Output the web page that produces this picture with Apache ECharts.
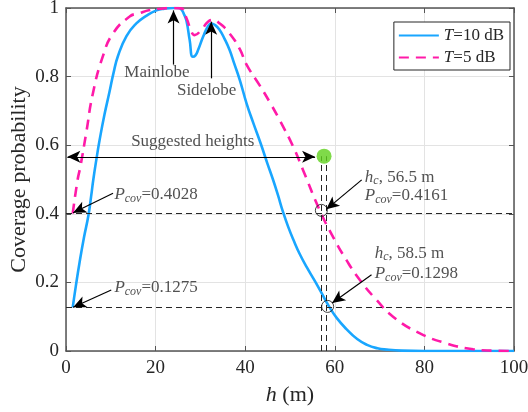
<!DOCTYPE html>
<html><head><meta charset="utf-8">
<script src="https://cdn.jsdelivr.net/npm/echarts@6/dist/echarts.min.js"></script>
<style>html,body{margin:0;padding:0;background:#fff}#c{width:528px;height:412px}</style>
</head><body><div id="c"></div>
<script>
// ---- data ----
const hBlue = [1.5,2.2,3.0,4.0,5.0,5.6,6.1,6.8,7.5,8.6,9.7,10.6,11.6,13.5,15.7,18,20.2,22,23.9,25.2,25.8,26.4,26.9,27.6,28.3,28.9,29.5,30.6,31.7,32.4,33.3,34.3,35.4,36.5,37.5,38.8,40.3,41.8,43.4,45,46.2,47.3,48.4,49.6,50.9,52.2,53.8,55.5,57,58.7,60.5,62.6,65,67.2,69.5,71.6,75,80,90,100];
const pBlue = [0.127,0.19,0.256,0.33,0.395,0.45,0.5,0.56,0.615,0.69,0.755,0.81,0.86,0.918,0.955,0.978,0.993,0.998,1.0,1.0,0.995,0.98,0.962,0.907,0.858,0.862,0.878,0.916,0.947,0.955,0.95,0.936,0.91,0.878,0.84,0.79,0.722,0.665,0.607,0.545,0.5,0.455,0.407,0.362,0.32,0.282,0.243,0.205,0.17,0.13,0.095,0.064,0.035,0.018,0.008,0.004,0.001,0,0,0];
const hPink = [1.5,2.6,3.2,4.5,6.0,8.2,10.5,14.2,16.4,18.7,21,23.9,25.7,26.9,28.0,28.7,30.2,31.7,32.8,34.3,36.5,38.8,40.3,43.2,45.5,47.7,50.7,52.9,56.6,59.6,62.6,65.6,69.3,73,78.9,85,90.9,95,100];
const pPink = [0.401,0.5,0.537,0.635,0.751,0.858,0.926,0.975,0.985,0.994,0.998,1.0,0.999,0.97,0.931,0.921,0.936,0.96,0.965,0.955,0.926,0.88,0.835,0.775,0.725,0.673,0.596,0.528,0.411,0.333,0.265,0.207,0.149,0.1,0.052,0.022,0.005,0.001,0];
const seriesNames = ['T=10 dB','T=5 dB'];
const xTicks = [0,20,40,60,80,100];
const yTicks = [0,0.2,0.4,0.6,0.8,1];
// reference lines
const hLineY = [0.4028, 0.1275];
const vLineX = [57.0, 58.2];
const vLineTop = 0.568;
// markers
const suggestPt = [57.6, 0.568];
const circlePts = [[57.0, 0.41],[58.4, 0.13]];
// arrows [from, to]
const arrowsOne = [
  [[24, 0.835],[24, 0.993]],
  [[32.4, 0.795],[32.4, 0.96]],
  [[10.5, 0.46],[1.6, 0.403]],
  [[10.1, 0.178],[1.6, 0.1275]],
  [[66.0, 0.499],[58.1, 0.413]],
  [[68.2, 0.222],[59.4, 0.14]]
];
const arrowsTwo = [ [[0.3, 0.566],[55.6, 0.566]] ];
// text annotations: [x, y, text, anchor]
const notes = [
  [20.3, 0.812, 'Mainlobe', 'c'],
  [31.4, 0.758, 'Sidelobe', 'c'],
  [28.3, 0.612, 'Suggested heights', 'c'],
  [10.8, 0.455, '{pi|P}{sub|cov}{t|=0.4028}', 'l'],
  [10.8, 0.184, '{pi|P}{sub|cov}{t|=0.1275}', 'l'],
  [66.7, 0.507, '{pi|h}{sub|c}{t|, 56.5 m}', 'l'],
  [66.7, 0.452, '{pi|P}{sub|cov}{t|=0.4161}', 'l'],
  [68.9, 0.285, '{pi|h}{sub|c}{t|, 58.5 m}', 'l'],
  [68.9, 0.226, '{pi|P}{sub|cov}{t|=0.1298}', 'l']
];

const FF = '"Liberation Serif", "DejaVu Serif", serif';
const TC = '#262626';
const rich = {
  t:{fontFamily:FF,fontSize:17,color:TC,lineHeight:20,verticalAlign:'middle'},
  pi:{fontFamily:FF,fontSize:17,fontStyle:'italic',color:TC,lineHeight:20,verticalAlign:'middle'},
  sub:{fontFamily:FF,fontSize:12,fontStyle:'italic',color:TC,lineHeight:8,verticalAlign:'bottom'},
  tb:{fontFamily:FF,fontSize:22,color:TC,lineHeight:24},
  pib:{fontFamily:FF,fontSize:22,fontStyle:'italic',color:TC,lineHeight:24}
};

const chart = echarts.init(document.getElementById('c'));
const zip = (a,b)=>a.map((v,i)=>[v,b[i]]);
const axisCol = '#555';

chart.setOption({
  animation:false,
  backgroundColor:'#fff',
  grid:{left:66,right:14,top:8,bottom:61,show:false,containLabel:false,outerBoundsMode:'none'},
  legend:{
    data:seriesNames, orient:'vertical', right:18, top:22,
    backgroundColor:'#fff', borderColor:'#262626', borderWidth:1,
    padding:[5,6,4,4], itemGap:5, itemWidth:40, itemHeight:14,
    itemStyle:{color:'rgba(0,0,0,0)',borderWidth:0,opacity:0},
    formatter:n=>{const m=n.split('='); return '{pi|'+m[0]+'}{t|='+m[1]+'}';},
    textStyle:{fontFamily:FF,fontSize:17,color:TC,rich:rich}
  },
  xAxis:[{
    type:'value',min:0,max:100,interval:20,
    name:'{pib|h}{tb| (m)}',nameLocation:'middle',nameGap:32,nameMoveOverlap:false,
    nameTextStyle:{rich:rich},
    axisLine:{show:true,onZero:false,lineStyle:{color:axisCol,width:1.5}},
    axisTick:{show:true,inside:true,length:5,lineStyle:{color:axisCol}},
    axisLabel:{fontFamily:FF,fontSize:19,color:TC,margin:8},
    splitLine:{show:true,lineStyle:{color:'#e3e3e3',width:1}}
  },{
    type:'value',min:0,max:100,interval:20,position:'top',
    axisLine:{show:true,onZero:false,lineStyle:{color:axisCol,width:1.5}},
    axisTick:{show:true,inside:true,length:5,lineStyle:{color:axisCol}},
    axisLabel:{show:false},splitLine:{show:false}
  }],
  yAxis:[{
    type:'value',min:0,max:1,interval:0.2,
    name:'Coverage probability',nameLocation:'middle',nameGap:36,nameRotate:90,nameMoveOverlap:false,
    nameTextStyle:{fontFamily:FF,fontSize:22,color:TC},
    axisLine:{show:true,onZero:false,lineStyle:{color:axisCol,width:1.5}},
    axisTick:{show:true,inside:true,length:5,lineStyle:{color:axisCol}},
    axisLabel:{fontFamily:FF,fontSize:19,color:TC,margin:7},
    splitLine:{show:true,lineStyle:{color:'#e3e3e3',width:1}}
  },{
    type:'value',min:0,max:1,interval:0.2,position:'right',
    axisLine:{show:true,onZero:false,lineStyle:{color:axisCol,width:1.5}},
    axisTick:{show:true,inside:true,length:5,lineStyle:{color:axisCol}},
    axisLabel:{show:false},splitLine:{show:false}
  }],
  series:[
    {
      name:'guides',type:'line',data:[],silent:true,z:1,
      markLine:{silent:true,symbol:['none','none'],animation:false,label:{show:false},
        lineStyle:{color:TC,type:[6,4],width:1},
        data: hLineY.map(y=>[{coord:[0,y]},{coord:[100,y]}])
          .concat(vLineX.map(x=>[{coord:[x,0]},{coord:[x,vLineTop]}]))
      }
    },
    {name:seriesNames[0],type:'line',data:zip(hBlue,pBlue),symbol:'none',showSymbol:false,smooth:0.5,
      lineStyle:{color:'#19a6ff',width:2.6},itemStyle:{color:'#19a6ff'},z:3},
    {name:seriesNames[1],type:'line',data:zip(hPink,pPink),symbol:'none',showSymbol:false,smooth:0.5,
      lineStyle:{color:'#ff1aa8',width:2.6,type:[10,7]},itemStyle:{color:'#ff1aa8'},z:3},
    {
      name:'circles',type:'scatter',data:circlePts,symbol:'circle',symbolSize:12,z:5,
      itemStyle:{color:'rgba(0,0,0,0)',borderColor:'#111',borderWidth:1}
    },
    {
      name:'suggest',type:'scatter',data:[suggestPt],symbolSize:15,z:6,
      itemStyle:{color:'#5fd11c'}
    },
    {
      name:'notes',type:'scatter',symbolSize:0,z:7,silent:true,
      data: notes.map(n=>({value:[n[0],n[1]],label:{
        show:true, position: n[3]==='c'?'inside':'right', distance:0,
        formatter: n[2].indexOf('{')===0 ? n[2] : '{t|'+n[2]+'}', rich:rich
      }})),
      markLine:{silent:true,animation:false,label:{show:false},symbol:['none','arrow'],symbolSize:[9,13],
        lineStyle:{color:'#000',type:'solid',width:1.2},
        data: arrowsOne.map(a=>[{coord:a[0]},{coord:a[1]}])
          .concat(arrowsTwo.map(a=>[{coord:a[0],symbol:'arrow'},{coord:a[1]}]))
      }
    }
  ]
});
</script></body></html>
